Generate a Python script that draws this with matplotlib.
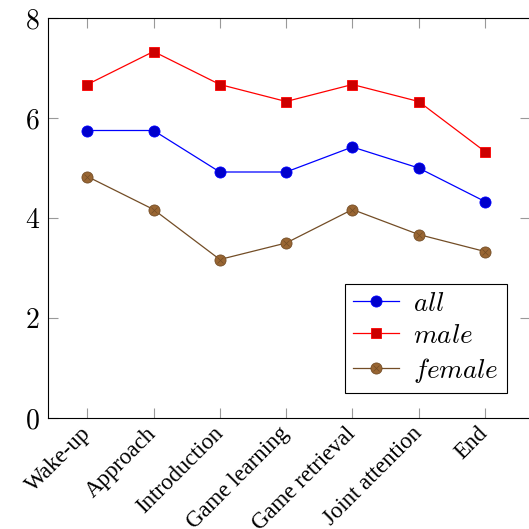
import matplotlib
matplotlib.use("Agg")
import matplotlib.pyplot as plt

# Phases of the interaction (x axis)
phases = ["Wake-up", "Approach", "Introduction", "Game learning",
          "Game retrieval", "Joint attention", "End"]

# Mean scores
all_vals = [5.75, 5.75, 4.92, 4.92, 5.42, 5.0, 4.33]
male_vals = [6.67, 7.33, 6.67, 6.33, 6.67, 6.33, 5.33]
female_vals = [4.83, 4.17, 3.17, 3.5, 4.17, 3.67, 3.33]

yticks = [0, 2, 4, 6, 8]

plt.rcParams['font.family'] = 'cmr10'
plt.rcParams['mathtext.fontset'] = 'cm'
plt.rcParams['axes.formatter.use_mathtext'] = True

fig = plt.figure(figsize=(5.29, 5.29), dpi=100)
ax = fig.add_axes([48 / 529, 111 / 529, 482 / 529, 400 / 529])

x = list(range(len(phases)))

l_all, = ax.plot(x, all_vals, color='blue', lw=0.9, marker='o', ms=8,
                 mfc=(0, 0, 0.8), mec='blue', mew=0.6)
l_male, = ax.plot(x, male_vals, color='red', lw=0.9, marker='s', ms=7.5,
                  mfc=(0.8, 0, 0), mec='red', mew=0.6)
brown_line = (0.45, 0.3, 0.15)
l_fem, = ax.plot(x, female_vals, color=brown_line, lw=0.9, marker='o', ms=8,
                 mfc=(0.6, 0.4, 0.2), mec=brown_line, mew=0.6)
# the cross inside the brown marks (pgfplots otimes*)
l_fem_x, = ax.plot(x, female_vals, ls='none', marker='x', ms=5,
                   mec=brown_line, mew=0.5)

ax.set_xlim(-0.593, 6.68)
ax.set_ylim(0, 8)
ax.set_xticks(x)
ax.set_yticks(yticks)

ax.tick_params(direction='in', top=True, right=True, length=7, width=0.8,
               color='#999999')
ax.tick_params(axis='y', labelsize=20, pad=6)
ax.tick_params(axis='x', pad=9)
ax.set_xticklabels(phases, rotation=45, ha='right', va='center',
                   rotation_mode='anchor',
                   family='Liberation Serif', fontsize=16.5)
for s in ax.spines.values():
    s.set_linewidth(0.8)

leg = ax.legend([l_all, l_male, (l_fem, l_fem_x)],
                ['$all$', '$male$', '$female$'],
                loc='lower right', bbox_to_anchor=(0.952, 0.0625),
                fancybox=False, edgecolor='black', framealpha=1,
                fontsize=19.5, handlelength=1.7, borderpad=0.3,
                labelspacing=0.3, handletextpad=0.5, borderaxespad=0)
leg.get_frame().set_linewidth(0.8)

fig.savefig("out.png", dpi=100)
